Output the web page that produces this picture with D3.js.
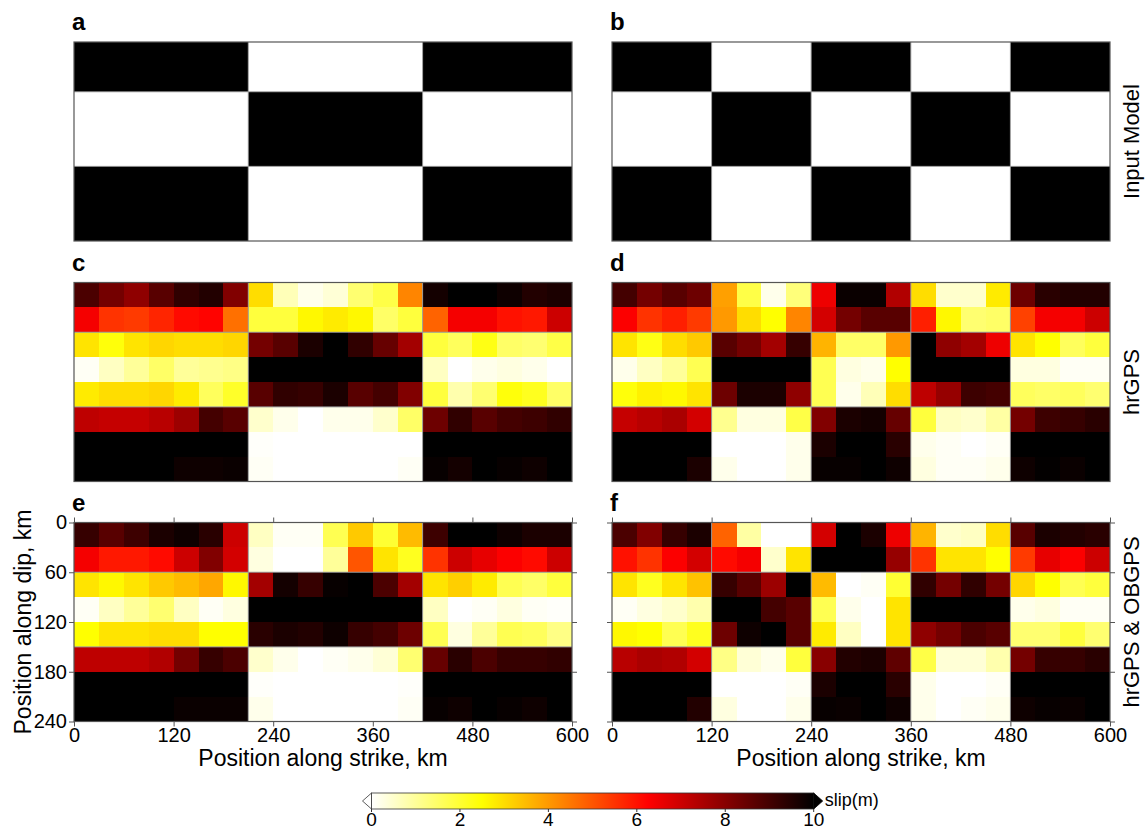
<!DOCTYPE html>
<html>
<head>
<meta charset="utf-8">
<script src="https://cdn.jsdelivr.net/npm/d3@7"></script>
<style>
  body { margin: 0; background: #fff; }
  text { font-family: "Liberation Sans", Arial, Helvetica, sans-serif; }
</style>
</head>
<body>
<svg id="chart"></svg>
<script>
// cell edges of the inverted fault patches (km)
const strikeEdges = [0, 30, 60, 90, 120, 150, 180, 210, 240, 270, 300, 330, 360, 390, 420, 450, 480, 510, 540, 570, 600]
const dipEdges = [0, 30, 60, 90, 120, 150, 180, 210, 240]
const strikeTicks = [0, 120, 240, 360, 480, 600]
const dipTicks = [0, 60, 120, 180, 240]

// input checkerboards
const modelAStrike = [0, 210, 420, 600]
const modelBStrike = [0, 120, 240, 360, 480, 600]
const modelDip = [0, 60, 150, 240]
const modelA = [
  [10, 0, 10],
  [0, 10, 0],
  [10, 0, 10]
]
const modelB = [
  [10, 0, 10, 0, 10],
  [0, 10, 0, 10, 0],
  [10, 0, 10, 0, 10]
]

// recovered slip (m), rows top->bottom along dip, cols along strike
const slipC = [
  [8.9, 8.3, 7.9, 8.7, 9.3, 9.5, 8.1, 3.0, 0.7, 0.2, 0.4, 1.4, 1.8, 4.3, 9.7, 10, 10, 9.8, 9.5, 9.6],
  [6.4, 5.5, 5.4, 5.7, 6.1, 6.2, 4.6, 1.9, 1.9, 2.6, 2.8, 2.6, 1.5, 1.9, 4.8, 6.4, 6.4, 6.0, 5.9, 7.0],
  [2.9, 2.4, 2.9, 3.1, 3.0, 3.0, 3.1, 8.3, 8.7, 9.6, 10, 9.3, 8.5, 7.6, 1.9, 1.6, 2.3, 1.5, 1.4, 1.8],
  [0.1, 0.6, 1.0, 1.5, 1.0, 1.1, 1.2, 10, 10, 10, 10, 10, 10, 10, 0.6, 0, 0.2, 0.3, 0.2, 0],
  [2.8, 3.0, 3.0, 3.1, 2.8, 1.6, 2.1, 8.7, 9.3, 9.2, 9.6, 8.7, 9.0, 8.1, 1.9, 0.8, 1.4, 2.4, 2.2, 1.5],
  [7.2, 7.1, 7.1, 7.3, 7.7, 9.0, 8.7, 0.5, 0.2, 0, 0.2, 0.2, 0.5, 1.5, 8.4, 9.3, 8.7, 9.0, 9.1, 9.3],
  [10, 10, 10, 10, 10, 10, 10, 0.05, 0, 0, 0, 0, 0, 0, 10, 10, 10, 10, 10, 10],
  [10, 10, 10, 10, 9.8, 9.8, 9.85, 0.1, 0, 0, 0, 0, 0, 0.1, 9.9, 9.7, 10, 9.9, 9.8, 10]
]
const slipD = [
  [9.0, 8.3, 8.7, 8.4, 3.9, 1.8, 0.2, 1.3, 6.5, 9.85, 9.85, 7.4, 3.0, 0.5, 0.5, 2.8, 8.4, 9.4, 9.5, 9.5],
  [6.3, 5.5, 5.8, 5.4, 4.0, 3.0, 2.5, 4.3, 6.9, 8.3, 8.7, 8.7, 5.8, 2.6, 1.4, 1.5, 5.3, 6.4, 6.4, 7.0],
  [2.9, 2.3, 3.0, 3.3, 8.7, 8.3, 7.6, 9.2, 3.6, 1.5, 1.5, 4.0, 10, 7.9, 7.6, 6.5, 2.9, 2.5, 1.6, 1.9],
  [0.2, 0.6, 1.0, 1.7, 10, 10, 10, 10, 1.7, 0.3, 0.2, 2.5, 10, 10, 10, 10, 0.3, 0.3, 0.1, 0.1],
  [2.4, 2.7, 2.6, 2.9, 8.4, 9.6, 9.6, 7.9, 1.7, 0.2, 0.7, 3.0, 7.2, 7.8, 9.1, 9.0, 1.6, 1.5, 1.6, 1.4],
  [7.1, 7.3, 7.5, 6.9, 1.1, 0.3, 0.3, 1.8, 8.1, 9.6, 9.7, 8.5, 1.9, 0.6, 0.5, 0.9, 8.3, 9.1, 9.2, 9.4],
  [10, 10, 10, 10, 0, 0, 0, 0.2, 9.6, 10, 10, 9.4, 0.2, 0.1, 0, 0.1, 10, 10, 10, 10],
  [10, 10, 10, 9.6, 0.2, 0, 0, 0.2, 9.9, 9.9, 10, 9.8, 0.3, 0.1, 0.1, 0.2, 9.8, 9.95, 9.85, 10]
]
const slipE = [
  [9.2, 8.7, 9.1, 9.6, 9.8, 9.4, 7.0, 0.6, 0.1, 0.1, 1.7, 3.3, 2.0, 3.5, 9.1, 10, 10, 9.8, 9.6, 9.6],
  [6.4, 5.9, 5.9, 6.1, 7.0, 8.1, 6.9, 0.3, 0, 0, 1.0, 5.0, 2.9, 2.2, 5.5, 7.0, 6.6, 6.3, 6.1, 7.0],
  [2.9, 2.6, 2.9, 3.3, 3.5, 3.8, 2.6, 7.6, 9.7, 9.2, 9.9, 10, 8.9, 7.6, 2.9, 3.2, 2.8, 1.7, 1.5, 1.9],
  [0.1, 0.6, 1.0, 1.4, 0.6, 0.1, 0.3, 10, 10, 10, 10, 10, 10, 10, 0.6, 0, 0.1, 0.3, 0.1, 0.05],
  [2.5, 2.9, 2.9, 3.0, 3.0, 2.5, 2.5, 9.4, 9.6, 9.5, 9.8, 9.2, 9.0, 8.4, 1.7, 0.3, 1.0, 1.7, 1.6, 1.2],
  [7.2, 7.2, 7.2, 7.4, 8.3, 9.2, 8.9, 0.5, 0.2, 0, 0.1, 0.2, 0.4, 1.4, 8.5, 9.4, 8.9, 9.2, 9.2, 9.3],
  [10, 10, 10, 10, 10, 10, 10, 0.05, 0, 0, 0, 0, 0, 0.05, 10, 10, 10, 10, 10, 10],
  [10, 10, 10, 10, 9.85, 9.85, 9.85, 0.2, 0, 0, 0, 0, 0, 0.1, 9.9, 9.8, 10, 9.9, 9.8, 10]
]
const slipF = [
  [8.9, 8.1, 9.2, 9.6, 4.8, 0.9, 0, 0, 6.9, 10, 9.6, 6.5, 3.6, 0.5, 0.6, 3.0, 8.7, 9.6, 9.5, 9.4],
  [6.0, 5.5, 6.3, 6.9, 6.1, 6.4, 0.5, 2.9, 10, 10, 10, 7.8, 5.5, 2.9, 2.9, 2.5, 5.4, 6.6, 6.3, 7.0],
  [2.9, 2.2, 2.9, 3.4, 9.2, 8.7, 7.7, 10, 3.5, 0, 0.1, 2.0, 9.3, 8.3, 9.3, 8.3, 3.1, 2.5, 1.7, 1.9],
  [0.1, 0.3, 0.5, 0.8, 10, 10, 9.0, 8.7, 1.7, 0.2, 0, 2.9, 10, 10, 10, 10, 0.2, 0.3, 0.1, 0.1],
  [2.6, 2.5, 1.7, 2.2, 8.4, 9.8, 10, 8.7, 2.8, 0.6, 0, 2.9, 7.9, 8.3, 8.9, 8.7, 1.4, 1.4, 1.9, 1.4],
  [7.3, 7.5, 7.4, 6.9, 1.2, 0.4, 0.2, 1.9, 8.0, 9.5, 9.6, 8.6, 1.8, 0.4, 0.4, 0.8, 8.3, 9.2, 9.2, 9.4],
  [10, 10, 10, 10, 0, 0, 0, 0.1, 9.6, 10, 10, 9.4, 0.2, 0, 0, 0.1, 10, 10, 10, 10],
  [10, 10, 10, 9.5, 0.3, 0, 0, 0.2, 9.9, 9.85, 10, 9.8, 0.2, 0, 0.1, 0.2, 9.8, 9.9, 9.85, 10]
]

const rowLabels = ["Input Model", "hrGPS", "hrGPS & OBGPS"]
const colorTicks = [0, 2, 4, 6, 8, 10]

const width = 1146, height = 830
const colX = [74, 612]
const rowY = [42, 282.5, 522.5]
const pw = 498, ph = 199
const font = '"Liberation Sans", Arial, Helvetica, sans-serif'

const svg = d3.select("#chart")
  .attr("width", width)
  .attr("height", height)

const x = d3.scaleLinear().domain([0, 600]).range([0, pw])
const y = d3.scaleLinear().domain([0, 240]).range([0, ph])
// inverted "hot" palette
const color = d3.scaleLinear()
  .domain([0, 2.5, 6.25, 10])
  .range(["#ffffff", "#ffff00", "#ff0000", "#000000"])
  .clamp(true)

const panels = [
  { id: "a", c: 0, r: 0, grid: modelA, xs: modelAStrike, ys: modelDip, bx: modelAStrike },
  { id: "b", c: 1, r: 0, grid: modelB, xs: modelBStrike, ys: modelDip, bx: modelBStrike },
  { id: "c", c: 0, r: 1, grid: slipC, xs: strikeEdges, ys: dipEdges, bx: modelAStrike },
  { id: "d", c: 1, r: 1, grid: slipD, xs: strikeEdges, ys: dipEdges, bx: modelBStrike },
  { id: "e", c: 0, r: 2, grid: slipE, xs: strikeEdges, ys: dipEdges, bx: modelAStrike, axes: true, yLab: true },
  { id: "f", c: 1, r: 2, grid: slipF, xs: strikeEdges, ys: dipEdges, bx: modelBStrike, axes: true }
]

panels.forEach(p => {
  const g = svg.append("g")
    .attr("transform", `translate(${colX[p.c]},${rowY[p.r]})`)

  const cells = []
  p.grid.forEach((row, i) => row.forEach((v, j) => {
    cells.push({ x0: p.xs[j], x1: p.xs[j + 1], y0: p.ys[i], y1: p.ys[i + 1], v: v })
  }))

  g.selectAll(".cell")
    .data(cells)
    .enter().append("rect")
    .attr("class", "cell")
    .attr("x", d => x(d.x0))
    .attr("y", d => y(d.y0))
    .attr("width", d => x(d.x1) - x(d.x0) + 0.3)
    .attr("height", d => y(d.y1) - y(d.y0) + 0.3)
    .attr("fill", d => color(d.v))
    .attr("shape-rendering", "crispEdges")

  // outlines of the input blocks
  g.selectAll(".bx")
    .data(p.bx.slice(1, -1))
    .enter().append("line")
    .attr("x1", d => x(d)).attr("x2", d => x(d))
    .attr("y1", 0).attr("y2", ph)
    .attr("stroke", "#999").attr("stroke-width", 1)
  g.selectAll(".by")
    .data(modelDip.slice(1, -1))
    .enter().append("line")
    .attr("y1", d => y(d)).attr("y2", d => y(d))
    .attr("x1", 0).attr("x2", pw)
    .attr("stroke", "#999").attr("stroke-width", 1)

  g.append("rect")
    .attr("width", pw).attr("height", ph)
    .attr("fill", "none")
    .attr("stroke", "#555").attr("stroke-width", 1.2)

  g.append("text")
    .attr("x", -2).attr("y", -12)
    .attr("font-size", 24).attr("font-weight", "bold")
    .text(p.id)

  if (p.axes) {
    const styleAxis = sel => {
      sel.select(".domain").remove()
      sel.selectAll("line").attr("stroke", "#555").attr("stroke-width", 1)
      sel.selectAll("text").attr("font-size", 20).attr("font-family", font).attr("fill", "#000")
    }
    g.append("g")
      .attr("transform", `translate(0,${ph})`)
      .call(d3.axisBottom(x).tickValues(strikeTicks).tickSize(5).tickPadding(1).tickFormat(d3.format("d")))
      .call(styleAxis)
    g.append("g")
      .call(d3.axisTop(x).tickValues(strikeTicks).tickSize(5).tickFormat(""))
      .call(styleAxis)
    g.append("g")
      .call(d3.axisLeft(y).tickValues(dipTicks).tickSize(5).tickPadding(2)
        .tickFormat(p.yLab ? d3.format("d") : ""))
      .call(styleAxis)
    g.append("g")
      .attr("transform", `translate(${pw},0)`)
      .call(d3.axisRight(y).tickValues(dipTicks).tickSize(5).tickFormat(""))
      .call(styleAxis)

    g.append("text")
      .attr("x", pw / 2).attr("y", ph + 44)
      .attr("text-anchor", "middle")
      .attr("font-size", 23)
      .text("Position along strike, km")
  }
})

svg.append("text")
  .attr("transform", `translate(31,${rowY[2] + ph / 2}) rotate(-90)`)
  .attr("text-anchor", "middle")
  .attr("font-size", 23)
  .text("Position along dip, km")

rowLabels.forEach((t, i) => {
  svg.append("text")
    .attr("transform", `translate(1139,${rowY[i] + ph / 2}) rotate(-90)`)
    .attr("text-anchor", "middle")
    .attr("font-size", 22)
    .text(t)
})

// colour bar
const cb = { x0: 371.5, x1: 813.7, y0: 793, h: 16 }
const cbx = d3.scaleLinear().domain([0, 10]).range([cb.x0, cb.x1])

const grad = svg.append("defs").append("linearGradient")
  .attr("id", "hot").attr("x1", "0%").attr("x2", "100%")
grad.selectAll("stop")
  .data(color.domain())
  .enter().append("stop")
  .attr("offset", d => (d / 10 * 100) + "%")
  .attr("stop-color", d => color(d))

svg.append("rect")
  .attr("x", cb.x0).attr("y", cb.y0)
  .attr("width", cb.x1 - cb.x0).attr("height", cb.h)
  .attr("fill", "url(#hot)")
  .attr("stroke", "#333").attr("stroke-width", 0.8)
svg.append("path")
  .attr("d", `M${cb.x0},${cb.y0}L${cb.x0 - 9},${cb.y0 + cb.h / 2}L${cb.x0},${cb.y0 + cb.h}Z`)
  .attr("fill", color(0)).attr("stroke", "#333").attr("stroke-width", 0.8)
svg.append("path")
  .attr("d", `M${cb.x1},${cb.y0}L${cb.x1 + 9},${cb.y0 + cb.h / 2}L${cb.x1},${cb.y0 + cb.h}Z`)
  .attr("fill", color(10)).attr("stroke", "#000").attr("stroke-width", 0.8)

svg.selectAll(".cbtick")
  .data(colorTicks)
  .enter().append("line")
  .attr("x1", d => cbx(d)).attr("x2", d => cbx(d))
  .attr("y1", cb.y0 + cb.h).attr("y2", cb.y0 + cb.h + 3)
  .attr("stroke", "#333")
svg.selectAll(".cblab")
  .data(colorTicks)
  .enter().append("text")
  .attr("x", d => cbx(d)).attr("y", 826)
  .attr("text-anchor", "middle")
  .attr("font-size", 19)
  .text(d => d)

svg.append("text")
  .attr("x", cb.x1 + 11).attr("y", 806)
  .attr("font-size", 18)
  .text("slip(m)")
</script>
</body>
</html>
